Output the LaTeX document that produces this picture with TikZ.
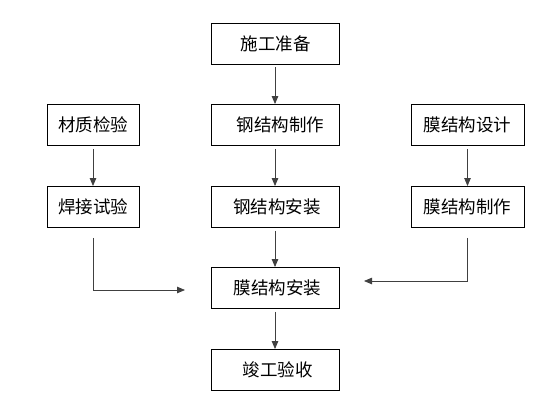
\documentclass[tikz,border=0pt]{standalone}
\usepackage{fontspec}
\setmainfont{Noto Sans CJK SC}
\usetikzlibrary{arrows.meta}
\tikzset{
  box/.style={draw=black, line width=0.9pt, rectangle, minimum height=41pt, inner sep=0pt, font=\fontsize{17.5}{20}\selectfont},
  cbox/.style={box, minimum width=128pt},
  lbox/.style={box, minimum width=92pt},
  rbox/.style={box, minimum width=113pt},
  arr/.style={draw=black!75, line width=0.8pt, -{Triangle[length=8pt,width=6.5pt]}}
}
\begin{document}
\begin{tikzpicture}[x=1pt,y=-1pt]
\useasboundingbox (0,0) rectangle (545,406);
\node[cbox] (prep) at (275,43.5) {\hspace*{0.1em}施工准备};
\node[cbox] (steelmake) at (275,125) {\hspace*{0.6em}钢结构制作};
\node[cbox] (steelinst) at (275,207) {\hspace*{0.2em}钢结构安装};
\node[cbox] (meminst) at (275,288) {\hspace*{0.3em}膜结构安装};
\node[cbox] (done) at (275,370) {\hspace*{0.3em}竣工验收};
\node[lbox] (mat) at (93,125) {材质检验};
\node[lbox] (weld) at (93,207) {焊接试验};
\node[rbox] (memdes) at (467.5,125) {膜结构设计};
\node[rbox] (memmake) at (467.5,207) {膜结构制作};
\coordinate (lend) at (185,290);
\coordinate (rend) at (364,281);
\draw[arr] ([yshift=-3pt]prep.south) -- (steelmake.north);
\draw[arr] ([yshift=-3pt]steelmake.south) -- (steelinst.north);
\draw[arr] ([yshift=-3pt]steelinst.south) -- (meminst.north);
\draw[arr] ([yshift=-3pt]meminst.south) -- (done.north);
\draw[arr] ([yshift=-3pt]mat.south) -- (weld.north);
\draw[arr] ([yshift=-3pt]memdes.south) -- (memmake.north);
\draw[arr] ([yshift=-10pt]weld.south) |- (lend);
\draw[arr] ([yshift=-10pt]memmake.south) |- (rend);
\end{tikzpicture}
\end{document}
